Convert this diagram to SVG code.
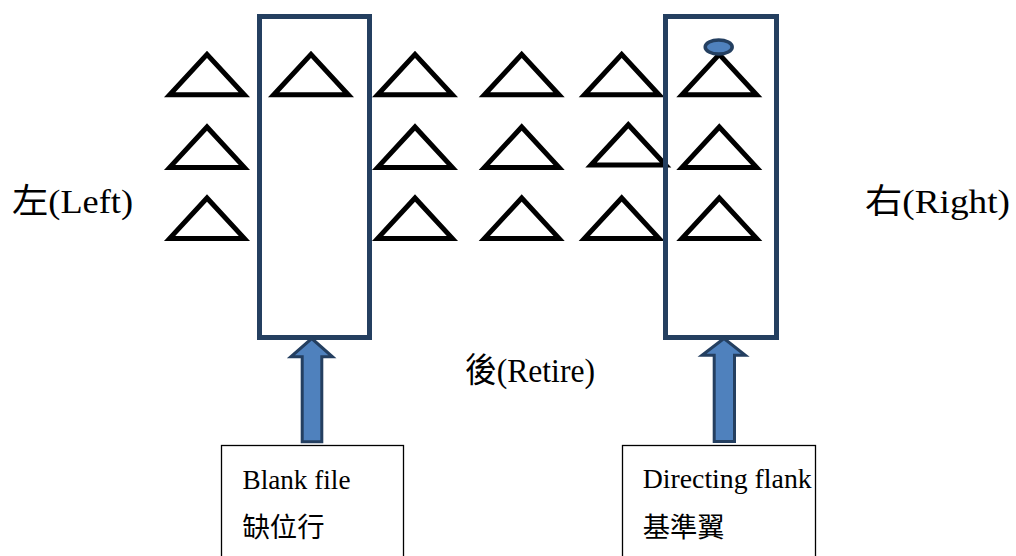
<svg xmlns="http://www.w3.org/2000/svg" xmlns:xlink="http://www.w3.org/1999/xlink" width="1016" height="556" viewBox="0 0 1016 556">
<style>
  .tri { fill: #ffffff; stroke: #000000; stroke-width: 5; stroke-linejoin: miter; }
  .file { fill: none; stroke: #243f60; stroke-width: 5; }
  .box { fill: #ffffff; stroke: #000000; stroke-width: 1.3; }
  .arrow { fill: #4f81bd; stroke: #243f60; stroke-width: 3; stroke-linejoin: miter; }
  .lbl { font-family: "Liberation Serif", "Noto Sans CJK TC", serif; fill: #000000; }
  .big { font-size: 34px; }
  .small { font-size: 27px; }
</style>
<defs>
  <polygon id="tri" points="0,0 37.3,40.4 -37.3,40.4"/>
</defs>
<rect width="1016" height="556" fill="#ffffff"/>

<g id="troops">
  <use xlink:href="#tri" href="#tri" class="tri" x="207" y="54.4"/>
  <use xlink:href="#tri" href="#tri" class="tri" x="311" y="54.4"/>
  <use xlink:href="#tri" href="#tri" class="tri" x="415" y="54.4"/>
  <use xlink:href="#tri" href="#tri" class="tri" x="521.7" y="54.4"/>
  <use xlink:href="#tri" href="#tri" class="tri" x="621.7" y="54.4"/>
  <use xlink:href="#tri" href="#tri" class="tri" x="719.3" y="54.4"/>

  <use xlink:href="#tri" href="#tri" class="tri" x="207" y="127"/>
  <use xlink:href="#tri" href="#tri" class="tri" x="415" y="127"/>
  <use xlink:href="#tri" href="#tri" class="tri" x="521.7" y="127"/>
  <use xlink:href="#tri" href="#tri" class="tri" x="628.3" y="124.7"/>
  <use xlink:href="#tri" href="#tri" class="tri" x="719.3" y="127"/>

  <use xlink:href="#tri" href="#tri" class="tri" x="207" y="198"/>
  <use xlink:href="#tri" href="#tri" class="tri" x="415" y="198"/>
  <use xlink:href="#tri" href="#tri" class="tri" x="521.7" y="198"/>
  <use xlink:href="#tri" href="#tri" class="tri" x="621.7" y="198"/>
  <use xlink:href="#tri" href="#tri" class="tri" x="719.3" y="198"/>
</g>

<g id="blank-file-column">
  <rect class="file" x="259.5" y="16.5" width="110" height="321"/>
</g>

<g id="directing-flank-column">
  <rect class="file" x="665.5" y="16.5" width="111" height="321"/>
  <ellipse cx="718.7" cy="47" rx="13.5" ry="7" fill="#4f81bd" stroke="#243f60" stroke-width="3.5"/>
</g>

<g id="connectors">
  <polygon class="arrow" points="311.7,338.5 332.5,356.8 321.8,356.8 321.8,441.8 302.2,441.8 302.2,356.8 290.8,356.8"/>
  <polygon class="arrow" points="724,338.5 745.3,355.2 734.5,355.2 734.5,441.5 714.2,441.5 714.2,355.2 702,355.2"/>
</g>

<g id="label-left">
  <text class="lbl big" x="12" y="213" textLength="121" lengthAdjust="spacingAndGlyphs">左(Left)</text>
</g>
<g id="label-right">
  <text class="lbl big" x="865" y="213" textLength="145" lengthAdjust="spacingAndGlyphs">右(Right)</text>
</g>
<g id="label-retire">
  <text class="lbl big" x="465" y="382" textLength="130" lengthAdjust="spacingAndGlyphs">後(Retire)</text>
</g>

<g id="box-blank-file">
  <rect class="box" x="221.5" y="445.5" width="182" height="130"/>
  <text class="lbl small" x="242.5" y="489" textLength="108" lengthAdjust="spacingAndGlyphs">Blank file</text>
  <text class="lbl small" x="242.5" y="537" textLength="82" lengthAdjust="spacingAndGlyphs">缺位行</text>
</g>

<g id="box-directing-flank">
  <rect class="box" x="622.5" y="445.5" width="193" height="130"/>
  <text class="lbl small" x="642.7" y="488" textLength="169" lengthAdjust="spacingAndGlyphs">Directing flank</text>
  <text class="lbl small" x="642.7" y="537" textLength="82" lengthAdjust="spacingAndGlyphs">基準翼</text>
</g>
</svg>
